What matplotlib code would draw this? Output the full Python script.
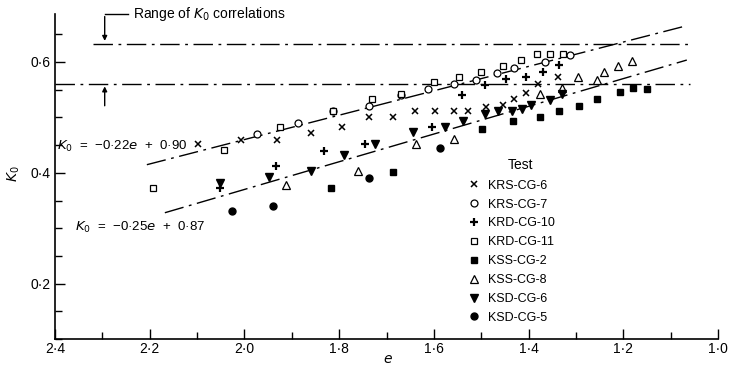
import matplotlib.pyplot as plt
import numpy as np
from matplotlib.ticker import MultipleLocator, FuncFormatter

plt.rcParams['font.family'] = ['Liberation Sans', 'DejaVu Sans']

# test data: void ratio e, K0
krs6_e = [2.097, 2.008, 1.931, 1.860, 1.795, 1.738, 1.687, 1.640, 1.598, 1.558, 1.527, 1.489, 1.455, 1.431, 1.406, 1.380, 1.337]
krs6_k = [0.452, 0.460, 0.459, 0.471, 0.483, 0.500, 0.501, 0.511, 0.511, 0.511, 0.511, 0.519, 0.523, 0.533, 0.544, 0.561, 0.573]
krs7_e = [1.974, 1.886, 1.812, 1.736, 1.670, 1.612, 1.558, 1.511, 1.467, 1.431, 1.365, 1.313]
krs7_k = [0.470, 0.490, 0.512, 0.520, 0.540, 0.552, 0.561, 0.568, 0.580, 0.590, 0.600, 0.612]
krd10_e = [2.052, 1.934, 1.832, 1.745, 1.605, 1.541, 1.492, 1.448, 1.406, 1.369, 1.335]
krd10_k = [0.372, 0.412, 0.439, 0.452, 0.482, 0.541, 0.559, 0.570, 0.572, 0.582, 0.594]
krd11_e = [2.192, 2.043, 1.925, 1.814, 1.731, 1.670, 1.600, 1.546, 1.501, 1.455, 1.417, 1.383, 1.355, 1.327]
krd11_k = [0.372, 0.441, 0.483, 0.511, 0.533, 0.543, 0.564, 0.573, 0.582, 0.592, 0.603, 0.614, 0.615, 0.615]
kss2_e = [1.817, 1.687, 1.499, 1.434, 1.377, 1.335, 1.293, 1.255, 1.208, 1.180, 1.149]
kss2_k = [0.372, 0.402, 0.479, 0.493, 0.501, 0.511, 0.521, 0.533, 0.545, 0.553, 0.552]
kss8_e = [1.912, 1.760, 1.638, 1.558, 1.376, 1.330, 1.295, 1.256, 1.241, 1.211, 1.182]
kss8_k = [0.378, 0.404, 0.452, 0.461, 0.543, 0.553, 0.573, 0.568, 0.582, 0.592, 0.601]
ksd6_e = [2.052, 1.948, 1.860, 1.790, 1.724, 1.645, 1.577, 1.539, 1.492, 1.464, 1.436, 1.415, 1.394, 1.355, 1.330]
ksd6_k = [0.382, 0.392, 0.404, 0.433, 0.452, 0.473, 0.482, 0.493, 0.506, 0.512, 0.512, 0.515, 0.523, 0.532, 0.543]
ksd5_e = [2.027, 1.940, 1.736, 1.587]
ksd5_k = [0.332, 0.341, 0.391, 0.444]

labels = ['KRS-CG-6', 'KRS-CG-7', 'KRD-CG-10', 'KRD-CG-11', 'KSS-CG-2', 'KSS-CG-8', 'KSD-CG-6', 'KSD-CG-5']

# correlation range and fitted lines
k0_range = [0.633, 0.561]
fit1 = (-0.22, 0.90)
fit2 = (-0.25, 0.87)

fig = plt.figure(figsize=(7.29, 3.67), dpi=100)
ax = fig.add_axes([0.0754, 0.076, 0.9096, 0.885])

dashdot = (0, (14, 4, 2, 4))
ax.plot([2.32, 1.06], [k0_range[0]] * 2, color='black', lw=1, linestyle=dashdot)
ax.plot([2.40, 1.06], [k0_range[1]] * 2, color='black', lw=1, linestyle=dashdot)

e1 = np.array([2.206, 1.076])
ax.plot(e1, fit1[0] * e1 + fit1[1], color='black', lw=1, linestyle=dashdot)
e2 = np.array([2.168, 1.066])
ax.plot(e2, fit2[0] * e2 + fit2[1], color='black', lw=1, linestyle=dashdot)

ms = 5
ax.plot(krs6_e, krs6_k, 'x', color='black', ms=ms, mew=1.1, label=labels[0])
ax.plot(krs7_e, krs7_k, 'o', mfc='white', mec='black', ms=ms, mew=0.9, label=labels[1])
ax.plot(krd10_e, krd10_k, '+', color='black', ms=ms + 1, mew=1.6, label=labels[2])
ax.plot(krd11_e, krd11_k, 's', mfc='white', mec='black', ms=ms, mew=0.9, label=labels[3])
ax.plot(kss2_e, kss2_k, 's', color='black', ms=ms, label=labels[4])
ax.plot(kss8_e, kss8_k, '^', mfc='white', mec='black', ms=ms + 1, mew=0.9, label=labels[5])
ax.plot(ksd6_e, ksd6_k, 'v', color='black', ms=ms + 0.5, label=labels[6])
ax.plot(ksd5_e, ksd5_k, 'o', color='black', ms=ms, label=labels[7])

# range annotation
ax.annotate('', xy=(2.295, k0_range[0]), xytext=(2.295, 0.687),
            arrowprops=dict(arrowstyle='-|>', color='black', lw=1, mutation_scale=7),
            annotation_clip=False)
ax.plot([2.295, 2.245], [0.687, 0.687], color='black', lw=1, clip_on=False)
ax.text(2.236, 0.687, 'Range of $K_0$ correlations', fontsize=10, va='center', ha='left')
ax.annotate('', xy=(2.295, k0_range[1]), xytext=(2.295, 0.516),
            arrowprops=dict(arrowstyle='-|>', color='black', lw=1, mutation_scale=7))

ax.text(2.396, 0.447, '$K_0$  =  \u22120\u00b722$e$  +  0\u00b790', fontsize=9.5, va='center', ha='left')
ax.text(2.358, 0.302, '$K_0$  =  \u22120\u00b725$e$  +  0\u00b787', fontsize=9.5, va='center', ha='left')

ax.text(0.683, 0.535, 'Test', transform=ax.transAxes, fontsize=10, va='center', ha='left')
leg = ax.legend(loc='upper left', bbox_to_anchor=(0.615, 0.51), frameon=False,
                fontsize=9, handlelength=0.8, handletextpad=0.7,
                labelspacing=0.55, borderpad=0)

ax.set_xlim(2.4, 1.0)
ax.set_ylim(0.1, 0.686)
ax.xaxis.set_major_locator(MultipleLocator(0.2))
ax.xaxis.set_minor_locator(MultipleLocator(0.1))
ax.yaxis.set_major_locator(MultipleLocator(0.2))
ax.yaxis.set_minor_locator(MultipleLocator(0.05))
fmt = FuncFormatter(lambda v, p: ('%.1f' % v).replace('.', '\u00b7'))
ax.xaxis.set_major_formatter(fmt)
ax.yaxis.set_major_formatter(fmt)
ax.tick_params(which='both', direction='in', labelsize=10, width=1)
ax.tick_params(axis='x', pad=2)
ax.tick_params(axis='y', pad=3)
ax.tick_params(which='major', length=7)
ax.tick_params(which='minor', length=5)
ax.spines['top'].set_visible(False)
ax.spines['right'].set_visible(False)
ax.spines['left'].set_linewidth(1.2)
ax.spines['bottom'].set_linewidth(1.2)

ax.set_xlabel('$e$', fontsize=10)
ax.xaxis.set_label_coords(0.502, -0.04)
ax.set_ylabel('$K_0$', fontsize=10)
ax.yaxis.set_label_coords(-0.05, 0.51)

fig.savefig('out.png', dpi=100)
